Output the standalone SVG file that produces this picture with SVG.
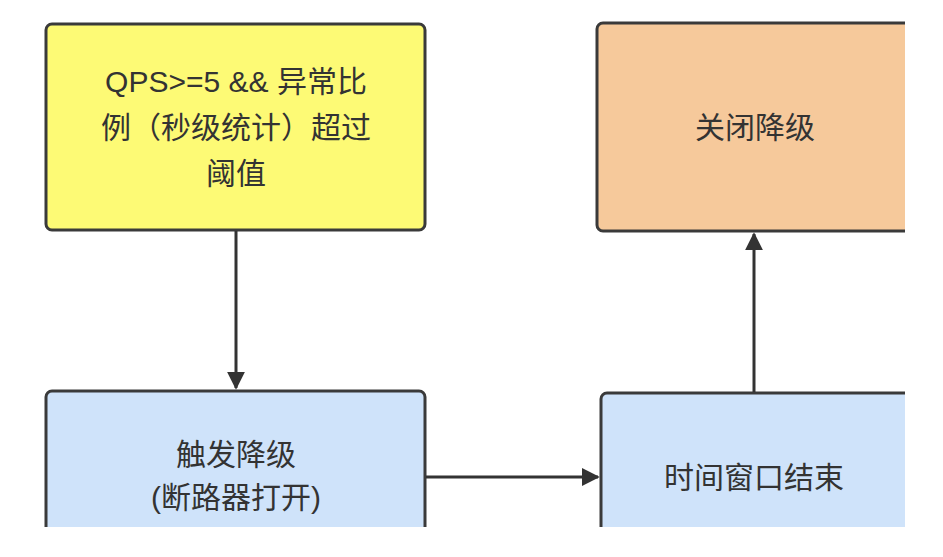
<svg xmlns="http://www.w3.org/2000/svg" width="943" height="557" viewBox="0 0 943 557">
<style>
.box{stroke:#3a3a3a;stroke-width:3}
.t{font-family:"Liberation Sans","Noto Sans CJK SC",sans-serif;font-size:30px;fill:#333;text-anchor:middle}
.c{stroke:#333;stroke-width:3;fill:none}
</style>
<defs>
<marker id="a" viewBox="0 0 10 10" refX="9" refY="5" markerWidth="6" markerHeight="6" markerUnits="strokeWidth" orient="auto"><path d="M0,0L10,5L0,10z" fill="#333"/></marker>
<clipPath id="clip"><rect x="0" y="0" width="905" height="527"/></clipPath>
</defs>
<rect width="943" height="557" fill="#fff"/>
<g clip-path="url(#clip)">
<g id="n1"><rect class="box" x="46" y="24" width="379" height="206" rx="6" fill="#fdfa75"/>
<text class="t" x="236" y="92">QPS&gt;=5 &amp;&amp; 异常比</text>
<text class="t" x="236" y="138">例（秒级统计）超过</text>
<text class="t" x="236" y="184">阈值</text></g>
<g id="n2"><rect class="box" x="597" y="23" width="340" height="208" rx="6" fill="#f6c99b"/>
<text class="t" x="755" y="138">关闭降级</text></g>
<g id="n3"><rect class="box" x="46" y="391" width="379" height="180" rx="6" fill="#cfe3fa"/>
<text class="t" x="236" y="465">触发降级</text>
<text class="t" x="236" y="508">(断路器打开)</text></g>
<g id="n4"><rect class="box" x="601" y="393" width="340" height="180" rx="6" fill="#cfe3fa"/>
<text class="t" x="754" y="488">时间窗口结束</text></g>
</g>
<g id="connectors">
<line class="c" x1="236" y1="231" x2="236" y2="388" marker-end="url(#a)"/>
<line class="c" x1="426" y1="477" x2="598" y2="477" marker-end="url(#a)"/>
<line class="c" x1="754" y1="392" x2="754" y2="234" marker-end="url(#a)"/>
</g>
</svg>
